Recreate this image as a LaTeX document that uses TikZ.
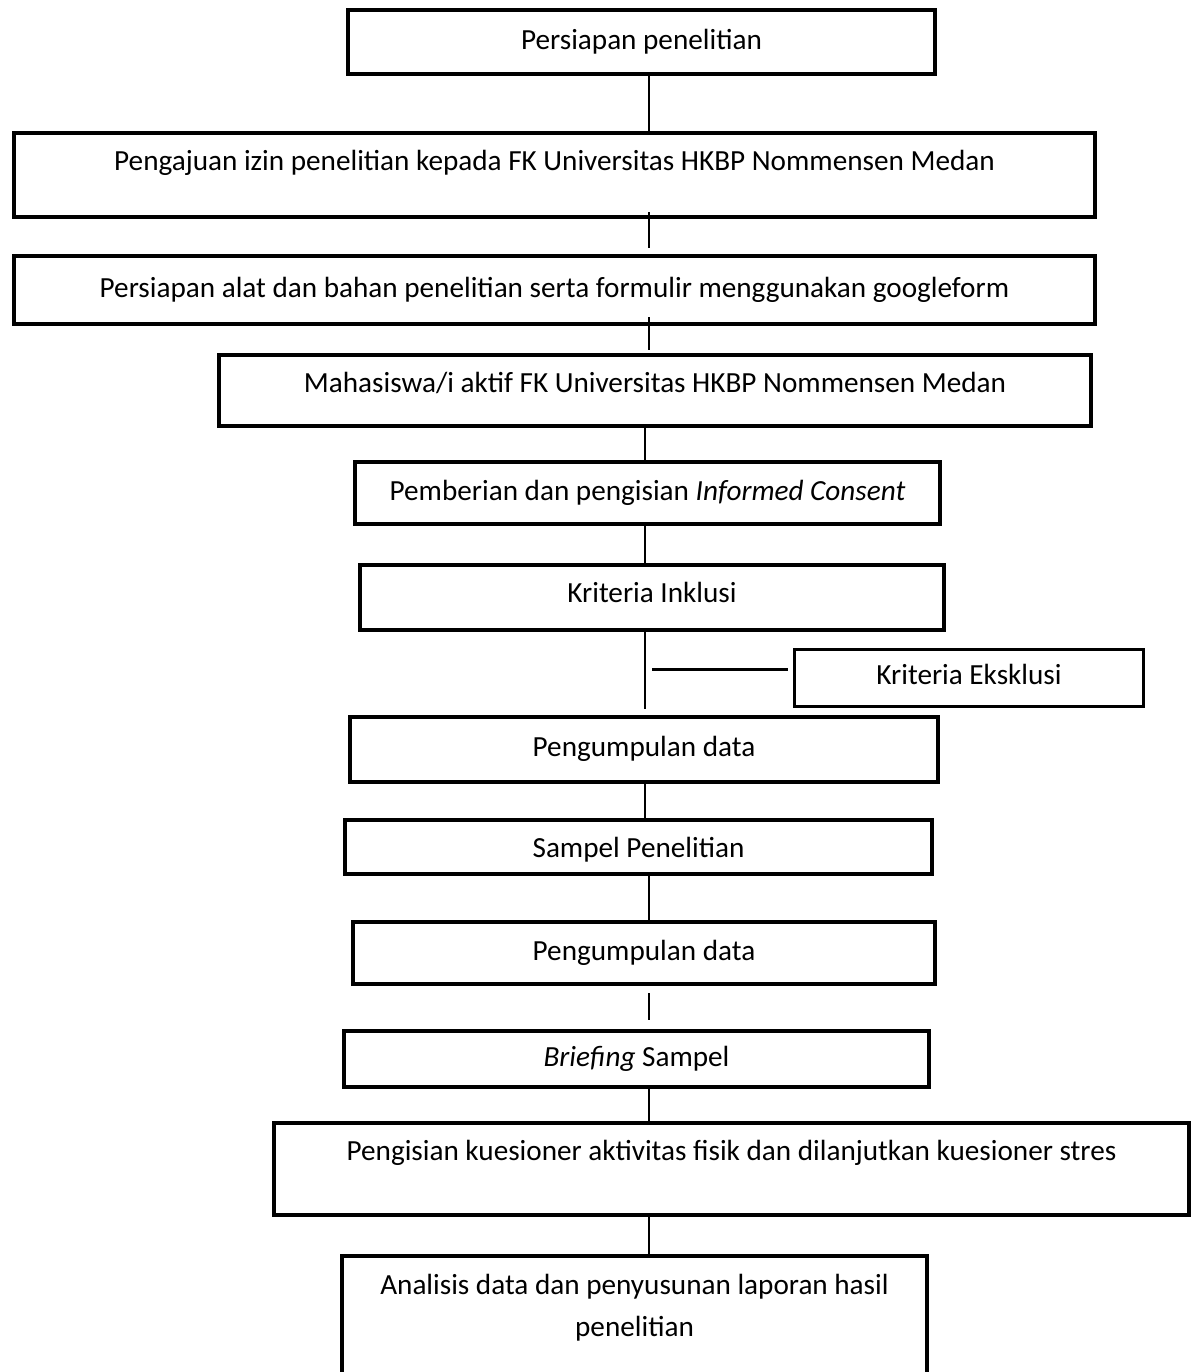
\documentclass[tikz,border=0pt]{standalone}
\usepackage{fontspec}
\setmainfont{Carlito}
\usetikzlibrary{positioning}

\tikzset{
  stepbox/.style={draw, line width=2pt, minimum width=#1, inner sep=0pt,
    text height=11pt, text depth=3.6pt, align=center,
    font=\fontsize{14.6}{21}\selectfont},
  link/.style={line width=1pt},
}

\begin{document}
\begin{tikzpicture}[x=0.5pt, y=-0.5pt]
  \useasboundingbox (0,0) rectangle (1193,1372);
  \clip (0,0) rectangle (1193,1372);
  % spine of the flow
  \coordinate (s) at (649,0);
  \coordinate (t) at (645,0);
  % preparation
  \node[stepbox=293.5pt, minimum height=32pt] (b1) at (641.5,42) {Persiapan penelitian};
  \node[stepbox=540.5pt, minimum height=42pt, text depth=15.6pt] (b2) at (554.5,175)
    {Pengajuan izin penelitian kepada FK Universitas HKBP Nommensen Medan};
  \node[stepbox=540.5pt, minimum height=34pt] (b3) at (554.5,290)
    {Persiapan alat dan bahan penelitian serta formulir menggunakan googleform};
  % population and consent
  \node[stepbox=436pt, minimum height=35.5pt, text depth=9pt] (b4) at (655,390.5)
    {Mahasiswa/i aktif FK Universitas HKBP Nommensen Medan};
  \node[stepbox=292.5pt, minimum height=31pt] (b5) at (647.5,493)
    {Pemberian dan pengisian \textit{Informed Consent}};
  \node[stepbox=292pt, minimum height=32.5pt, text depth=6pt] (b6) at (652,597.5) {Kriteria Inklusi};
  \node[stepbox=174.5pt, minimum height=28.5pt, line width=1.5pt] (ex) at (969,677.5) {Kriteria Eksklusi};
  % sampling
  \node[stepbox=294pt, minimum height=32.5pt] (b8) at (644,749.5) {Pengumpulan data};
  \node[stepbox=293.5pt, minimum height=27pt, text height=14pt] (b9) at (638.5,847) {Sampel Penelitian};
  \node[stepbox=291pt, minimum height=31pt] (b10) at (644,953) {Pengumpulan data};
  \node[stepbox=292.5pt, minimum height=28pt] (b11) at (636.5,1059) {\textit{Briefing} Sampel};
  % questionnaires and report
  \node[stepbox=457.5pt, minimum height=46pt, text depth=19.6pt] (b12) at (731.5,1169)
    {Pengisian kuesioner aktivitas fisik dan dilanjutkan kuesioner stres};
  \node[stepbox=292.5pt, minimum height=67pt, text height=24.6pt, text depth=11.2pt] (b13) at (634.5,1323)
    {Analisis data dan penyusunan laporan hasil\\penelitian};
  % connectors
  \draw[link] (b1.south -| s) -- (b2.north -| s);
  \draw[link, shorten <=-3.5pt, shorten >=3pt] (b2.south -| s) -- (b3.north -| s);
  \draw[link, shorten <=-4.5pt, shorten >=1.5pt] (b3.south -| s) -- (b4.north -| s);
  \draw[link] (b4.south -| t) -- (b5.north -| t);
  \draw[link] (b5.south -| t) -- (b6.north -| t);
  \draw[link, shorten >=3pt] (b6.south -| t) -- (b8.north -| t);
  \coordinate (br) at (652,669);
  \draw[link, line width=1.5pt, shorten >=2.5pt] (br) -- (br -| ex.west);
  \draw[link] (b8.south -| t) -- (b9.north -| t);
  \draw[link] (b9.south -| s) -- (b10.north -| s);
  \draw[link, shorten <=3.5pt, shorten >=4.5pt] (b10.south -| s) -- (b11.north -| s);
  \draw[link] (b11.south -| s) -- (b12.north -| s);
  \draw[link] (b12.south -| s) -- (b13.north -| s);
\end{tikzpicture}
\end{document}
